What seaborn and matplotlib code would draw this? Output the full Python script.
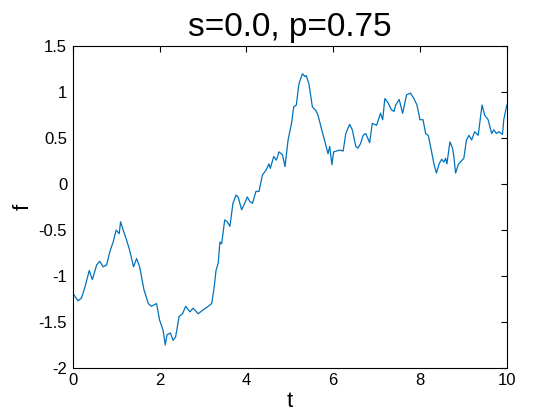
import matplotlib
matplotlib.use("Agg")
import pandas as pd
import seaborn as sns
import matplotlib.pyplot as plt

# =========================
# Data
# =========================
t_vals = [0.00, 0.05, 0.12, 0.20, 0.28, 0.38, 0.45, 0.55, 0.62, 0.70,
          0.78, 0.85, 0.93, 1.00, 1.07, 1.10, 1.16, 1.24, 1.31, 1.40,
          1.47, 1.54, 1.64, 1.74, 1.81, 1.93, 2.00, 2.08, 2.13, 2.17,
          2.25, 2.31, 2.37, 2.45, 2.53, 2.60, 2.70, 2.77, 2.89, 3.00,
          3.12, 3.20, 3.25, 3.30, 3.35, 3.39, 3.43, 3.50, 3.56, 3.62,
          3.69, 3.76, 3.81, 3.89, 3.96, 4.02, 4.08, 4.14, 4.22, 4.29,
          4.37, 4.45, 4.52, 4.55, 4.63, 4.69, 4.75, 4.83, 4.89, 4.96,
          5.04, 5.09, 5.15, 5.21, 5.29, 5.35, 5.38, 5.44, 5.52, 5.60,
          5.65, 5.73, 5.81, 5.88, 5.92, 5.97, 6.01, 6.15, 6.23, 6.29,
          6.38, 6.44, 6.52, 6.57, 6.63, 6.69, 6.75, 6.84, 6.90, 7.00,
          7.09, 7.14, 7.19, 7.27, 7.34, 7.40, 7.44, 7.52, 7.60, 7.69,
          7.78, 7.86, 7.93, 8.00, 8.07, 8.13, 8.19, 8.26, 8.32, 8.38,
          8.44, 8.50, 8.55, 8.59, 8.62, 8.69, 8.75, 8.78, 8.82, 8.88,
          8.93, 9.01, 9.07, 9.13, 9.19, 9.26, 9.34, 9.39, 9.43, 9.49,
          9.57, 9.65, 9.70, 9.76, 9.82, 9.90, 9.93, 10.00]

f_vals = [-1.19, -1.22, -1.27, -1.24, -1.12, -0.94, -1.04, -0.88, -0.84, -0.90,
          -0.88, -0.74, -0.63, -0.50, -0.54, -0.41, -0.50, -0.61, -0.72, -0.90,
          -0.81, -0.90, -1.15, -1.30, -1.33, -1.30, -1.48, -1.59, -1.75, -1.64,
          -1.62, -1.70, -1.66, -1.44, -1.41, -1.33, -1.39, -1.35, -1.41, -1.37,
          -1.33, -1.30, -1.15, -0.94, -0.86, -0.63, -0.65, -0.39, -0.41, -0.46,
          -0.21, -0.12, -0.14, -0.28, -0.21, -0.14, -0.19, -0.21, -0.08, -0.08,
          0.10, 0.15, 0.22, 0.17, 0.30, 0.26, 0.35, 0.32, 0.19, 0.48,
          0.66, 0.84, 0.86, 1.09, 1.20, 1.17, 1.18, 1.09, 0.84, 0.80,
          0.75, 0.60, 0.46, 0.33, 0.41, 0.21, 0.35, 0.37, 0.36, 0.55,
          0.65, 0.59, 0.41, 0.39, 0.44, 0.53, 0.55, 0.45, 0.66, 0.64,
          0.77, 0.70, 0.93, 0.88, 0.81, 0.79, 0.86, 0.92, 0.77, 0.97,
          0.99, 0.93, 0.86, 0.70, 0.70, 0.55, 0.53, 0.37, 0.22, 0.12,
          0.22, 0.27, 0.24, 0.28, 0.22, 0.46, 0.39, 0.30, 0.12, 0.21,
          0.24, 0.28, 0.48, 0.53, 0.48, 0.57, 0.53, 0.71, 0.86, 0.75,
          0.70, 0.55, 0.59, 0.55, 0.57, 0.54, 0.70, 0.86]

x_ticks = [0, 2, 4, 6, 8, 10]
y_ticks = [-2, -1.5, -1, -0.5, 0, 0.5, 1, 1.5]
y_tick_labels = ["-2", "-1.5", "-1", "-0.5", "0", "0.5", "1", "1.5"]

df = pd.DataFrame({"t": t_vals, "f": f_vals})

# =========================
# Plot
# =========================
sns.set_style("white")
plt.rcParams['font.family'] = ['Liberation Sans', 'DejaVu Sans']
plt.rcParams['text.color'] = 'black'
plt.rcParams['axes.labelcolor'] = 'black'

fig = plt.figure(figsize=(5.6, 4.2), dpi=100)
ax = fig.add_axes([0.130, 0.124, 0.775, 0.766])

sns.lineplot(data=df, x="t", y="f", ax=ax, color="#0072BD",
             linewidth=0.9, estimator=None)

ax.set_xlim(0, 10)
ax.set_ylim(-2, 1.5)
ax.set_xticks(x_ticks)
ax.set_yticks(y_ticks)
ax.set_yticklabels(y_tick_labels)

for side in ax.spines.values():
    side.set_color("black")
    side.set_linewidth(0.8)
ax.tick_params(direction="in", top=True, right=True, length=4,
               width=0.8, labelsize=12, colors="black", pad=4)

ax.set_xlabel("t", fontsize=16, labelpad=2, color="black")
ax.set_ylabel("f", fontsize=16, labelpad=4, color="black")
ax.set_title("s=0.0, p=0.75", fontsize=24, pad=7, color="black")

fig.savefig("out.png", dpi=100)
